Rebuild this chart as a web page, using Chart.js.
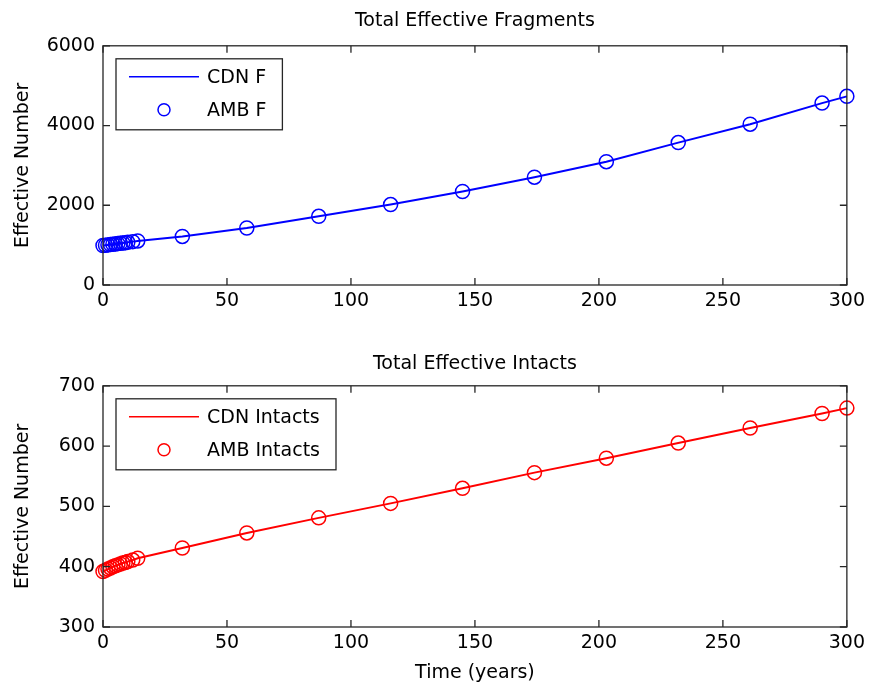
<!DOCTYPE html>
<html>
<head>
<meta charset="utf-8">
<title>Total Effective Fragments / Intacts</title>
<script src="https://cdn.jsdelivr.net/npm/chart.js@4.4.1/dist/chart.umd.min.js"></script>
<style>
    html, body { margin: 0; padding: 0; background: #fff; }
    canvas { display: block; }
</style>
</head>
<body>
<canvas id="fragChart" width="870" height="345"></canvas>
<canvas id="intactChart" width="870" height="344"></canvas>
<script>
// Model output, time in years
const years = [0, 1, 2, 3, 4, 5, 6, 7, 8, 9, 10, 12, 14, 32, 58, 87, 116, 145, 174, 203, 232, 261, 290, 300];
const fragments = [990, 998, 1006, 1014, 1022, 1030, 1038, 1046, 1054, 1062, 1070, 1088, 1105, 1218, 1429, 1722, 2017, 2345, 2705, 3093, 3572, 4034, 4563, 4732];
const intacts = [392, 394, 396, 398, 400, 401.5, 403, 404.5, 406, 407, 408.5, 411, 414, 431, 456, 481, 505, 530, 556, 580, 605, 630, 654, 663];

const xTicks = [0, 50, 100, 150, 200, 250, 300];
const fragTicks = [0, 2000, 4000, 6000];
const intactTicks = [300, 400, 500, 600, 700];

Chart.defaults.font.family = 'DejaVu Sans';
Chart.defaults.font.size = 19;
Chart.defaults.color = '#000';

const AXIS_COLOR = '#262626';

function toPoints(ys) {
    return years.map((x, i) => ({ x: x, y: ys[i] }));
}

// Box around the plot area plus inward ticks on all four sides
const boxAxes = {
    id: 'boxAxes',
    afterDatasetsDraw(chart) {
        const { ctx, chartArea: a, scales } = chart;
        const len = 7;
        ctx.save();
        ctx.strokeStyle = AXIS_COLOR;
        ctx.lineWidth = 1.3;
        ctx.strokeRect(a.left, a.top, a.right - a.left, a.bottom - a.top);
        ctx.beginPath();
        scales.x.ticks.forEach(t => {
            const px = scales.x.getPixelForValue(t.value);
            ctx.moveTo(px, a.bottom); ctx.lineTo(px, a.bottom - len);
            ctx.moveTo(px, a.top); ctx.lineTo(px, a.top + len);
        });
        scales.y.ticks.forEach(t => {
            const py = scales.y.getPixelForValue(t.value);
            ctx.moveTo(a.left, py); ctx.lineTo(a.left + len, py);
            ctx.moveTo(a.right, py); ctx.lineTo(a.right - len, py);
        });
        ctx.stroke();
        ctx.restore();
    }
};

// Legend drawn inside the top-left corner of the plot
const insetLegend = {
    id: 'insetLegend',
    afterDraw(chart) {
        const { ctx, chartArea: a } = chart;
        const sets = chart.data.datasets;
        ctx.save();
        ctx.font = '19px DejaVu Sans';
        const textW = Math.max(...sets.map(d => ctx.measureText(d.label).width));
        const x0 = a.left + 13, y0 = a.top + 13;
        const rowH = 33;
        const w = 91 + textW + 16, h = rowH * sets.length + 5;
        ctx.fillStyle = '#fff';
        ctx.fillRect(x0, y0, w, h);
        ctx.strokeStyle = AXIS_COLOR;
        ctx.lineWidth = 1.3;
        ctx.strokeRect(x0, y0, w, h);
        sets.forEach((d, i) => {
            const cy = y0 + 18 + i * rowH;
            ctx.strokeStyle = d.borderColor;
            ctx.lineWidth = 1.5;
            ctx.beginPath();
            if (d.showLine) {
                ctx.moveTo(x0 + 13, cy); ctx.lineTo(x0 + 83, cy);
            } else {
                ctx.arc(x0 + 48, cy, 6, 0, Math.PI * 2);
            }
            ctx.stroke();
            ctx.fillStyle = '#000';
            ctx.textBaseline = 'middle';
            ctx.fillText(d.label, x0 + 91, cy + 1);
        });
        ctx.restore();
    }
};

function makeChart(id, opts) {
    return new Chart(document.getElementById(id), {
        type: 'scatter',
        data: {
            datasets: [
                {
                    label: opts.lineLabel,
                    data: toPoints(opts.values),
                    showLine: true,
                    borderColor: opts.color,
                    borderWidth: 2,
                    pointRadius: 0
                },
                {
                    label: opts.markLabel,
                    data: toPoints(opts.values),
                    showLine: false,
                    borderColor: opts.color,
                    backgroundColor: 'transparent',
                    borderWidth: 1.5,
                    pointRadius: 7,
                    pointHoverRadius: 7
                }
            ]
        },
        options: {
            responsive: false,
            animation: false,
            events: [],
            clip: false,
            layout: { padding: { left: 0, right: 21, top: 0, bottom: 0 } },
            plugins: {
                legend: { display: false },
                tooltip: { enabled: false },
                title: {
                    display: true,
                    fullSize: false,
                    text: opts.title,
                    font: { size: 19, weight: 'normal' },
                    padding: { top: opts.titleTop, bottom: opts.titleBottom }
                }
            },
            scales: {
                x: {
                    type: 'linear',
                    min: 0,
                    max: 300,
                    afterBuildTicks: s => { s.ticks = xTicks.map(v => ({ value: v })); },
                    afterFit: s => { s.height = opts.xHeight; },
                    grid: { display: false, drawTicks: false },
                    border: { display: false },
                    ticks: { padding: 5, maxRotation: 0, callback: v => String(v) },
                    title: {
                        display: !!opts.xTitle,
                        text: opts.xTitle || '',
                        padding: { top: 0, bottom: 5 }
                    }
                },
                y: {
                    type: 'linear',
                    min: opts.yTicks[0],
                    max: opts.yTicks[opts.yTicks.length - 1],
                    afterBuildTicks: s => { s.ticks = opts.yTicks.map(v => ({ value: v })); },
                    afterFit: s => { s.width = 103; },
                    grid: { display: false, drawTicks: false },
                    border: { display: false },
                    ticks: { padding: 8, callback: v => String(v) },
                    title: {
                        display: true,
                        text: 'Effective Number',
                        padding: { top: 12, bottom: 0 }
                    }
                }
            }
        },
        plugins: [boxAxes, insetLegend]
    });
}

makeChart('fragChart', {
    title: 'Total Effective Fragments',
    titleTop: 10,
    titleBottom: 13,
    lineLabel: 'CDN F',
    markLabel: 'AMB F',
    color: '#0000ff',
    values: fragments,
    yTicks: fragTicks,
    xHeight: 60
});

makeChart('intactChart', {
    title: 'Total Effective Intacts',
    titleTop: 8,
    titleBottom: 10,
    lineLabel: 'CDN Intacts',
    markLabel: 'AMB Intacts',
    color: '#ff0000',
    values: intacts,
    yTicks: intactTicks,
    xHeight: 62,
    xTitle: 'Time (years)'
});
</script>
</body>
</html>
